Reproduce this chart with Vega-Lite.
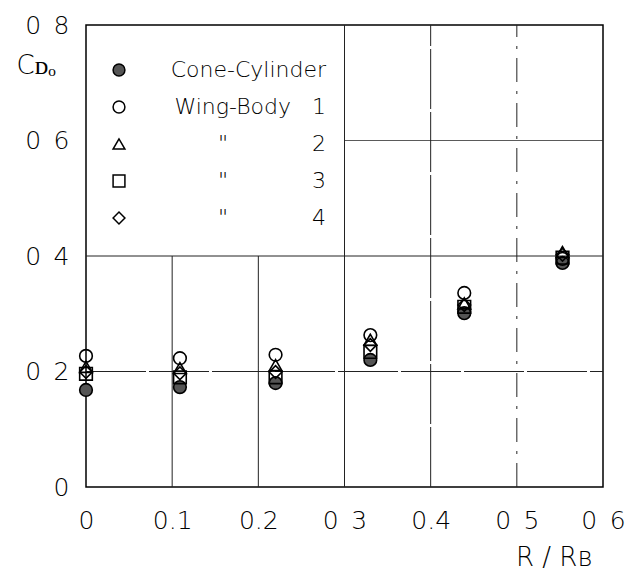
{
  "$schema": "https://vega.github.io/schema/vega-lite/v6.json",
  "width": 517,
  "height": 462,
  "autosize": {"type": "none"},
  "padding": {"left": 86, "top": 25, "right": 22, "bottom": 92},
  "background": "white",
  "config": {
    "view": {"stroke": "black", "strokeWidth": 1.5},
    "font": "DejaVu Sans",
    "axis": {"grid": false, "ticks": false, "domain": false, "labelColor": "black", "titleColor": "black", "labelFont": "DejaVu Sans", "titleFont": "DejaVu Sans", "labelFontWeight": 200, "titleFontWeight": 200}
  },
  "datasets": {
    "grid": [
      {"x": 0, "x2": 0.6, "y": 0.2, "y2": 0.2, "style": "broken"},
      {"x": 0, "x2": 0.6, "y": 0.4, "y2": 0.4, "style": "solid"},
      {"x": 0.3, "x2": 0.6, "y": 0.6, "y2": 0.6, "style": "solid"},
      {"x": 0.1, "x2": 0.1, "y": 0, "y2": 0.4, "style": "solid"},
      {"x": 0.2, "x2": 0.2, "y": 0, "y2": 0.4, "style": "solid"},
      {"x": 0.3, "x2": 0.3, "y": 0, "y2": 0.8, "style": "solid"},
      {"x": 0.4, "x2": 0.4, "y": 0, "y2": 0.8, "style": "broken"},
      {"x": 0.5, "x2": 0.5, "y": 0, "y2": 0.8, "style": "dashdot"}
    ],
    "points": [
      {"r": 0, "cd": 0.168, "series": "Cone-Cylinder"},
      {"r": 0.109, "cd": 0.173, "series": "Cone-Cylinder"},
      {"r": 0.22, "cd": 0.18, "series": "Cone-Cylinder"},
      {"r": 0.33, "cd": 0.22, "series": "Cone-Cylinder"},
      {"r": 0.439, "cd": 0.301, "series": "Cone-Cylinder"},
      {"r": 0.553, "cd": 0.388, "series": "Cone-Cylinder"},
      {"r": 0, "cd": 0.196, "series": "WB3"},
      {"r": 0.109, "cd": 0.19, "series": "WB3"},
      {"r": 0.22, "cd": 0.19, "series": "WB3"},
      {"r": 0.33, "cd": 0.234, "series": "WB3"},
      {"r": 0.439, "cd": 0.312, "series": "WB3"},
      {"r": 0.553, "cd": 0.397, "series": "WB3"},
      {"r": 0, "cd": 0.199, "series": "WB4"},
      {"r": 0.109, "cd": 0.197, "series": "WB4"},
      {"r": 0.22, "cd": 0.199, "series": "WB4"},
      {"r": 0.33, "cd": 0.246, "series": "WB4"},
      {"r": 0.439, "cd": 0.315, "series": "WB4"},
      {"r": 0.553, "cd": 0.402, "series": "WB4"},
      {"r": 0, "cd": 0.208, "series": "WB2"},
      {"r": 0.109, "cd": 0.206, "series": "WB2"},
      {"r": 0.22, "cd": 0.211, "series": "WB2"},
      {"r": 0.33, "cd": 0.255, "series": "WB2"},
      {"r": 0.439, "cd": 0.318, "series": "WB2"},
      {"r": 0.553, "cd": 0.407, "series": "WB2"},
      {"r": 0, "cd": 0.227, "series": "WB1"},
      {"r": 0.109, "cd": 0.223, "series": "WB1"},
      {"r": 0.22, "cd": 0.229, "series": "WB1"},
      {"r": 0.33, "cd": 0.263, "series": "WB1"},
      {"r": 0.439, "cd": 0.336, "series": "WB1"},
      {"r": 0.553, "cd": 0.395, "series": "WB1"}
    ]
  },
  "layer": [
    {
      "data": {"name": "grid"},
      "mark": {"type": "rule", "color": "#222", "strokeWidth": 1},
      "encoding": {
        "x": {"field": "x", "type": "quantitative", "scale": {"domain": [0, 0.6], "nice": false},
          "axis": {
            "values": [0, 0.1, 0.2, 0.3, 0.4, 0.5, 0.6],
            "labelExpr": "round(datum.value*10) == 0 ? '0' : ((indexof([3,5,6], round(datum.value*10)) >= 0 ? '0\u2002' : '0.') + round(datum.value*10))",
            "labelFontSize": 25, "labelPadding": 21, "labelFlush": false,
            "title": "R / Rʙ", "titleFontSize": 26, "titleAngle": 0, "titleAlign": "right", "titleBaseline": "middle", "titleX": 506, "titleY": 70
          }},
        "x2": {"field": "x2"},
        "y": {"field": "y", "type": "quantitative", "scale": {"domain": [0, 0.8], "nice": false},
          "axis": {
            "values": [0, 0.2, 0.4, 0.6, 0.8],
            "labelExpr": "datum.value == 0 ? '0\u2002\u2007' : '0\u2002' + round(datum.value*10)",
            "labelFontSize": 25, "labelPadding": 17, "labelFlush": false, "labelBaseline": "middle",
            "title": "Cᴅₒ", "titleFontSize": 26, "titleAngle": 0, "titleAlign": "left", "titleBaseline": "middle", "titleX": -70, "titleY": 40
          }},
        "y2": {"field": "y2"},
        "strokeDash": {"field": "style", "type": "nominal", "scale": {"domain": ["solid", "broken", "dashdot"], "range": [[1, 0], [60, 3], [24, 9, 3, 9]]}, "legend": null}
      }
    },
    {
      "data": {"name": "points"},
      "mark": {"type": "point", "filled": false, "size": 160, "strokeWidth": 1.6, "opacity": 1},
      "encoding": {
        "x": {
          "field": "r", "type": "quantitative",
          "axis": {
            "values": [0, 0.1, 0.2, 0.3, 0.4, 0.5, 0.6],
            "labelExpr": "round(datum.value*10) == 0 ? '0' : ((indexof([3,5,6], round(datum.value*10)) >= 0 ? '0\u2002' : '0.') + round(datum.value*10))",
            "labelFontSize": 25, "labelPadding": 21, "labelFlush": false,
            "title": "R / Rʙ", "titleFontSize": 26, "titleAngle": 0, "titleAlign": "right", "titleBaseline": "middle", "titleX": 506, "titleY": 70
          }
        },
        "y": {
          "field": "cd", "type": "quantitative",
          "axis": {
            "values": [0, 0.2, 0.4, 0.6, 0.8],
            "labelExpr": "datum.value == 0 ? '0\u2002\u2007' : '0\u2002' + round(datum.value*10)",
            "labelFontSize": 25, "labelPadding": 17, "labelFlush": false, "labelBaseline": "middle",
            "title": "Cᴅₒ", "titleFontSize": 26, "titleAngle": 0, "titleAlign": "left", "titleBaseline": "middle", "titleX": -70, "titleY": 40
          }
        },
        "shape": {
          "field": "series", "type": "nominal",
          "scale": {"domain": ["Cone-Cylinder", "WB1", "WB2", "WB3", "WB4"], "range": ["circle", "circle", "triangle-up", "square", "diamond"]},
          "legend": {
            "orient": "none", "legendX": 22, "legendY": 34, "title": null, "padding": 0,
            "symbolSize": 140, "symbolStrokeWidth": 1.5,
            "labelFontSize": 22, "labelFont": "DejaVu Sans", "labelFontWeight": 200, "labelColor": "black",
            "labelAlign": "right", "labelOffset": 196, "labelLimit": 400, "rowPadding": 15,
            "labelExpr": "datum.label == 'Cone-Cylinder' ? 'Cone-Cylinder' : datum.label == 'WB1' ? 'Wing-Body\u00a0\u00a0\u00a01' : datum.label == 'WB2' ? '\"\u00a0\u00a0\u00a0\u00a0\u00a0\u00a0\u00a0\u00a0\u00a0\u00a0\u00a0\u00a02' : datum.label == 'WB3' ? '\"\u00a0\u00a0\u00a0\u00a0\u00a0\u00a0\u00a0\u00a0\u00a0\u00a0\u00a0\u00a03' : '\"\u00a0\u00a0\u00a0\u00a0\u00a0\u00a0\u00a0\u00a0\u00a0\u00a0\u00a0\u00a04'"
          }
        },
        "fill": {
          "field": "series", "type": "nominal",
          "scale": {"domain": ["Cone-Cylinder", "WB1", "WB2", "WB3", "WB4"], "range": ["#555555", "transparent", "transparent", "transparent", "transparent"]},
          "legend": null
        },
        "stroke": {"value": "black"}
      }
    }
  ]
}
